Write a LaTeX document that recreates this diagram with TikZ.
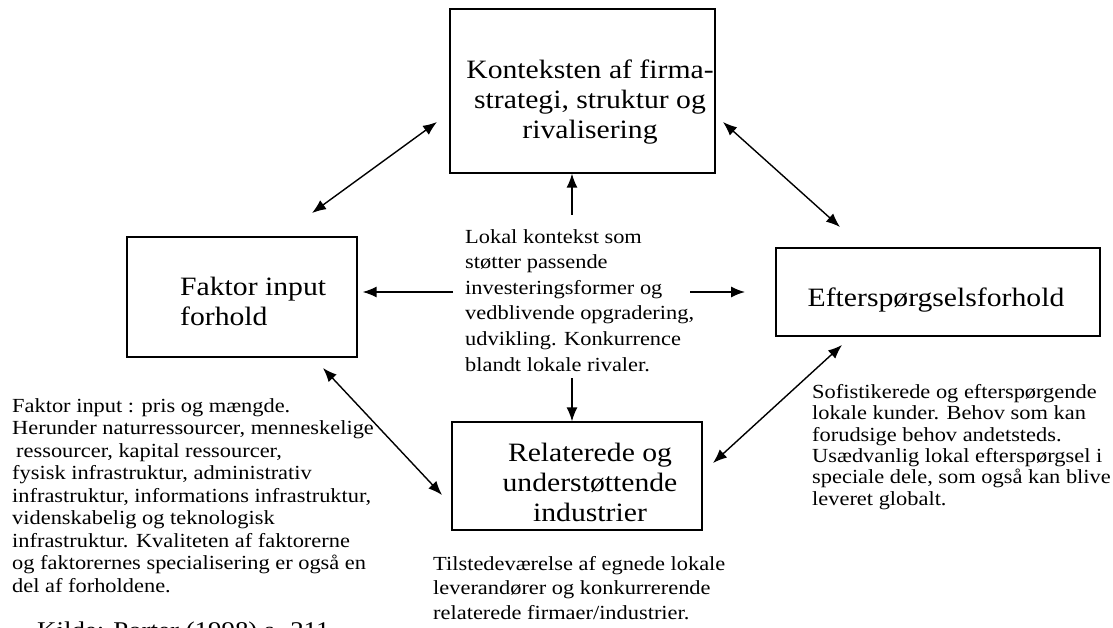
\documentclass[tikz,border=0pt]{standalone}
\usepackage{fontspec}
\setmainfont{Liberation Serif}[FakeStretch=1.12]
\usetikzlibrary{arrows.meta}
\newcommand{\boxfont}{\fontsize{26.5}{30}\selectfont}
\newcommand{\notefont}{\fontsize{20}{22.5}\selectfont}

\begin{document}
\begin{tikzpicture}[x=1pt, y=-1pt, >={Latex[length=14pt,width=11pt]},
    box/.style={draw, line width=1.3pt, inner sep=0},
    boxtext/.style={inner sep=0, align=center, font=\boxfont},
    note/.style={inner sep=0, align=left, anchor=north west, font=\notefont},
    pil/.style={line width=1.4pt}]
  \useasboundingbox (0,0) rectangle (1113,628);

  % de fire bokse
  \node[box, minimum width=265pt, minimum height=164pt] (strat) at (582.5,91) {};
  \node[box, minimum width=230pt, minimum height=120pt] (faktor) at (242,297) {};
  \node[box, minimum width=324pt, minimum height=88pt] (eft) at (938,292) {};
  \node[box, minimum width=250pt, minimum height=108pt] (rel) at (577,476) {};

  \node[boxtext] (strat-t) at (590,102) {Konteksten af firma-\\strategi, struktur og\\rivalisering};
  \node[boxtext, align=left, anchor=north west] (faktor-t) at (180,277) {Faktor input\\forhold};
  \node[boxtext] (eft-t) at (936,300) {Efterspørgselsforhold};
  \node[boxtext] (rel-t) at (590,482) {Relaterede og\\understøttende\\industrier};

  % tekster
  \node[note, font=\fontsize{20}{25.6}\selectfont] (lokal) at (465,229)
    {Lokal kontekst som\\støtter passende\\investeringsformer og\\vedblivende opgradering,\\udvikling. Konkurrence\\blandt lokale rivaler.};
  \node[note] (faktor-n) at (12,398)
    {Faktor input : pris og mængde.\\Herunder naturressourcer, menneskelige\\\hspace*{4pt}ressourcer, kapital ressourcer,\\fysisk infrastruktur, administrativ\\infrastruktur, informations infrastruktur,\\videnskabelig og teknologisk\\infrastruktur. Kvaliteten af faktorerne\\og faktorernes specialisering er også en\\del af forholdene.};
  \node[note, font=\fontsize{20}{21.4}\selectfont] (eft-n) at (812,384)
    {Sofistikerede og efterspørgende\\lokale kunder. Behov som kan\\forudsige behov andetsteds.\\Usædvanlig lokal efterspørgsel i\\speciale dele, som også kan blive\\leveret globalt.};
  \node[note, font=\fontsize{20}{24.5}\selectfont] (rel-n) at (433,556)
    {Tilstedeværelse af egnede lokale\\leverandører og konkurrerende\\relaterede firmaer/industrier.};
  \node[note, font=\fontsize{24}{26}\selectfont] (kilde) at (37,622) {Kilde: Porter (1998) s. 211};

  % pile
  \coordinate (fs1) at (312,213);
  \coordinate (fs2) at (437,122);
  \coordinate (se1) at (723,122);
  \coordinate (se2) at (840,227);
  \coordinate (fr1) at (323,368);
  \coordinate (fr2) at (442,495);
  \coordinate (re1) at (713,463);
  \coordinate (re2) at (842,345);
  \coordinate (lk-op) at (572,215);
  \coordinate (lk-ned) at (572,378);
  \coordinate (lk-v) at (453,292);
  \coordinate (lk-h) at (690,292);
  \coordinate (lk-h2) at (745,292);

  \draw[pil, <->] (fs1) -- (fs2);
  \draw[pil, <->] (se1) -- (se2);
  \draw[pil, <->] (fr1) -- (fr2);
  \draw[pil, <->] (re1) -- (re2);
  \draw[pil, ->] (lk-op) -- (lk-op |- strat.south);
  \draw[pil, ->] (lk-ned) -- (lk-ned |- rel.north);
  \draw[pil, ->] (lk-v) -- ([xshift=5pt]faktor.east |- lk-v);
  \draw[pil, ->] (lk-h) -- (lk-h2);
\end{tikzpicture}
\end{document}
